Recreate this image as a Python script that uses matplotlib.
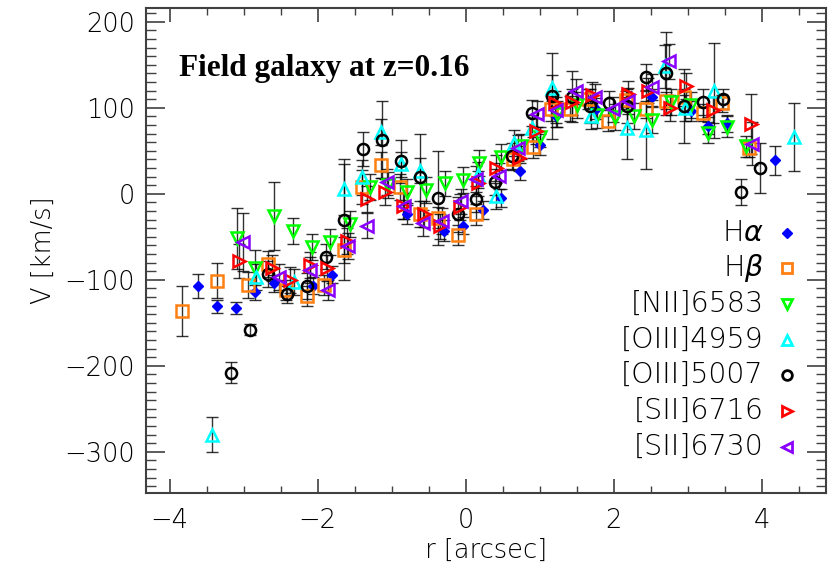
import numpy as np
import matplotlib
matplotlib.use('Agg')
import matplotlib.pyplot as plt
from matplotlib.ticker import MultipleLocator

# rotation curve data: r [arcsec], V [km/s], error
ha_r = [-3.61, -3.36, -3.10, -2.84, -2.59, -2.07, -1.81, -0.80, -0.29, -0.04, 0.23, 0.47, 0.73, 1.00, 1.22, 1.76, 2.52, 3.04, 3.27, 3.53, 4.17]
ha_v = [-107, -131, -133, -114, -104, -107, -94, -23, -43, -37, -19, -5, 26, 57, 90, 99, 112, 96, 79, 82, 39]
ha_e = [14, 8, 7, 10, 10, 10, 10, 12, 12, 10, 10, 10, 10, 12, 12, 12, 10, 12, 10, 10, 17]

hb_r = [-3.83, -3.36, -2.94, -2.67, -2.43, -2.15, -1.91, -1.64, -1.40, -1.14, -0.89, -0.62, -0.37, -0.11, 0.14, 0.64, 0.91, 1.15, 1.41, 1.65, 1.92, 2.17, 2.44, 2.70, 2.95, 3.21, 3.46, 3.82]
hb_v = [-136, -101, -106, -82, -112, -119, -106, -65, 8, 33, 8, -24, -28, -48, -24, 40, 54, 99, 99, 110, 85, 109, 98, 108, 112, 94, 105, 53]
hb_e = [29, 20, 15, 15, 12, 12, 12, 15, 20, 15, 15, 15, 12, 12, 12, 12, 12, 15, 15, 12, 12, 10, 10, 10, 10, 10, 10, 10]

n2_r = [-3.09, -2.84, -2.59, -2.33, -2.08, -1.84, -1.57, -1.30, -1.05, -0.79, -0.54, -0.28, -0.04, 0.18, 0.48, 0.75, 1.00, 1.23, 1.50, 1.77, 2.01, 2.27, 2.52, 2.77, 3.04, 3.27, 3.53, 3.79]
n2_v = [-52, -86, -26, -43, -62, -56, -35, 8, 10, 2, 4, 12, 16, 36, 43, 55, 66, 93, 103, 92, 89, 90, 86, 107, 103, 71, 78, 55]
n2_e = [35, 20, 40, 15, 15, 15, 15, 15, 15, 15, 15, 15, 15, 15, 15, 15, 12, 15, 15, 15, 15, 15, 15, 15, 15, 12, 12, 12]

o4959_r = [-3.43, -2.83, -2.32, -1.64, -1.40, -1.14, -0.87, -0.62, 0.16, 0.41, 0.65, 0.90, 1.16, 1.69, 2.18, 2.44, 2.69, 2.96, 3.35, 4.43]
o4959_v = [-280, -97, -103, 5, 19, 72, 34, 27, 22, -3, 59, 76, 123, 90, 76, 74, 148, 100, 120, 66]
o4959_e = [20, 15, 15, 30, 20, 15, 15, 15, 15, 15, 15, 15, 15, 15, 36, 45, 25, 15, 55, 40]

o5007_r = [-3.17, -2.92, -2.67, -2.41, -2.15, -1.89, -1.64, -1.39, -1.13, -0.88, -0.62, -0.37, -0.11, 0.14, 0.39, 0.63, 0.90, 1.17, 1.43, 1.68, 1.93, 2.18, 2.44, 2.70, 2.95, 3.21, 3.47, 3.72, 3.97]
o5007_v = [-208, -158, -93, -117, -107, -73, -30, 52, 63, 38, 20, -5, -24, -6, 14, 44, 94, 114, 113, 102, 105, 102, 136, 140, 102, 107, 110, 2, 30]
o5007_e = [12, 6, 15, 10, 15, 15, 70, 20, 45, 25, 50, 55, 20, 15, 15, 15, 15, 50, 30, 20, 15, 20, 15, 48, 43, 15, 12, 15, 29]

s6716_r = [-3.06, -2.62, -2.37, -2.11, -1.88, -1.61, -1.34, -1.09, -0.85, -0.57, -0.35, -0.08, 0.16, 0.41, 0.72, 0.95, 1.20, 1.43, 1.70, 2.19, 2.46, 2.76, 2.98, 3.34, 3.85]
s6716_v = [-78, -86, -100, -83, -86, -55, -6, 2, -14, -24, -38, -15, 12, 30, 41, 73, 105, 107, 115, 116, 120, 100, 125, 97, 81]
s6716_e = [20, 15, 15, 15, 15, 15, 15, 15, 15, 15, 15, 15, 15, 15, 15, 15, 15, 15, 15, 15, 15, 15, 15, 15, 35]

s6730_r = [-3.01, -2.52, -2.11, -1.86, -1.59, -1.34, -1.06, -0.83, -0.58, -0.32, -0.06, 0.14, 0.45, 0.71, 0.96, 1.22, 1.49, 1.74, 1.99, 2.19, 2.51, 2.74, 3.87]
s6730_v = [-56, -97, -89, -112, -61, -37, 14, -14, -34, -32, -9, 17, 21, 53, 93, 97, 119, 113, 98, 108, 124, 154, 58]
s6730_e = [34, 15, 15, 12, 15, 15, 15, 15, 15, 15, 15, 15, 15, 15, 15, 15, 15, 15, 15, 15, 15, 20, 25]

labels = [r'H$\alpha$', r'H$\beta$', '[NII]6583', '[OIII]4959', '[OIII]5007', '[SII]6716', '[SII]6730']
colors = ['#0000ff', '#ff7f10', '#00ff00', '#00ffff', '#000000', '#ff0000', '#8a00ff']
markers = ['D', 's', 'v', '^', 'o', '>', '<']
msizes = [5, 8, 8, 8, 8, 8, 8]

series = [(ha_r, ha_v, ha_e), (hb_r, hb_v, hb_e), (n2_r, n2_v, n2_e), (o4959_r, o4959_v, o4959_e),
          (o5007_r, o5007_v, o5007_e), (s6716_r, s6716_v, s6716_e), (s6730_r, s6730_v, s6730_e)]

plt.rcParams['font.family'] = ['DejaVu Sans']
plt.rcParams['mathtext.fontset'] = 'custom'
plt.rcParams['mathtext.rm'] = 'DejaVu Sans:light'
plt.rcParams['mathtext.it'] = 'DejaVu Sans:italic:light'

fig = plt.figure(figsize=(8.29, 5.83), dpi=100)
ax = fig.add_axes([0.176, 0.1544, 0.8204, 0.8319])

# error bars first, markers on top
for r, v, e in series:
    ax.errorbar(r, v, yerr=e, fmt='none', ecolor='k', elinewidth=1, capsize=4, capthick=1, alpha=0.8, zorder=1)

for (r, v, e), c, m, ms in zip(series, colors, markers, msizes):
    if m == 'D':
        ax.plot(r, v, ls='none', marker=m, ms=ms, color=c, mec=c, zorder=3)
    else:
        ax.plot(r, v, ls='none', marker=m, ms=ms, mfc='none', mec=c, mew=1.8, zorder=3)

ax.set_xlim(-4.32, 4.865)
ax.set_ylim(-348, 216)
ax.xaxis.set_major_locator(MultipleLocator(2))
ax.xaxis.set_minor_locator(MultipleLocator(0.5))
ax.yaxis.set_major_locator(MultipleLocator(100))
ax.yaxis.set_minor_locator(MultipleLocator(10))
ax.tick_params(which='both', direction='in', top=True, right=True, color='0.25', labelsize=18.5)
ax.tick_params(axis='x', which='major', length=10, width=1.2, pad=11)
ax.tick_params(axis='x', which='minor', length=5, width=1)
ax.tick_params(axis='y', which='major', length=14, width=1.2, pad=8)
ax.tick_params(axis='y', which='minor', length=7, width=1)
for lab in ax.get_xticklabels() + ax.get_yticklabels():
    lab.set_fontweight('light')
for s in ax.spines.values():
    s.set_linewidth(1.5)
    s.set_color('0.25')

ax.set_xlabel('r [arcsec]', fontsize=18.5, fontweight='light', labelpad=3)
ax.set_ylabel('V [km/s]', fontsize=18.5, fontweight='light', labelpad=6)

ax.text(0.048, 0.875, 'Field galaxy at z=0.16', transform=ax.transAxes, fontsize=22.5,
        fontweight='bold', family='Liberation Serif', va='center', ha='left')

# legend: labels right aligned, marker on the right
for i, (lab, c, m, ms) in enumerate(zip(labels, colors, markers, msizes)):
    yy = 0.537 - i * 0.0736
    ax.text(0.908, yy, lab, transform=ax.transAxes, fontsize=20.5, fontweight='light', ha='right', va='center')
    if m == 'D':
        ax.plot([0.943], [yy], transform=ax.transAxes, ls='none', marker=m, ms=5, color=c, clip_on=False)
    else:
        ax.plot([0.943], [yy], transform=ax.transAxes, ls='none', marker=m, ms=7, mfc='none', mec=c, mew=2, clip_on=False)

fig.savefig('out.png', dpi=100)
